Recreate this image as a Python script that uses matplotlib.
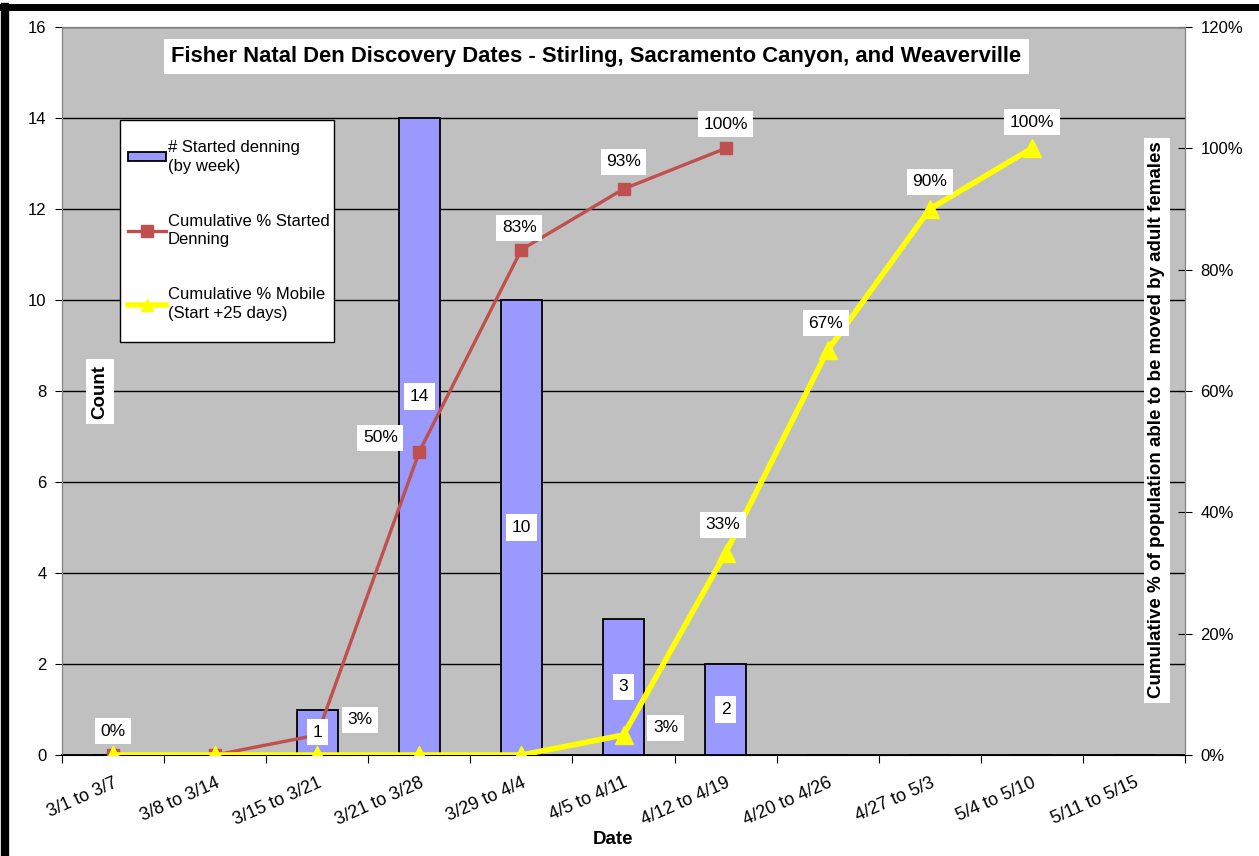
import matplotlib
matplotlib.use("Agg")
import matplotlib.pyplot as plt
from matplotlib.lines import Line2D
from matplotlib.patches import Patch, Rectangle

plt.rcParams['font.family'] = ['Liberation Sans', 'DejaVu Sans']

# data
weeks = ['3/1 to 3/7', '3/8 to 3/14', '3/15 to 3/21', '3/21 to 3/28', '3/29 to 4/4',
         '4/5 to 4/11', '4/12 to 4/19', '4/20 to 4/26', '4/27 to 5/3', '5/4 to 5/10',
         '5/11 to 5/15']
started = [0, 0, 1, 14, 10, 3, 2, 0, 0, 0, 0]
cum_started = [0, 0, 3.3, 50, 83.3, 93.3, 100]
cum_mobile = [0, 0, 0, 0, 0, 3.3, 33.3, 66.7, 90, 100]
started_labels = ['0%', None, '3%', '50%', '83%', '93%', '100%']
mobile_labels = [None, None, None, None, None, '3%', '33%', '67%', '90%', '100%']

# label offsets in pixels (style only)
red_off = [(0, 24), None, (43, 15), (-39, 14), (-2, 22), (0, 27), (0, 24)]
yel_off = [None, None, None, None, None, (42, 7), (-3, 28), (-2, 27), (0, 27), (0, 26)]

W, H = 1259, 856
fig = plt.figure(figsize=(W / 100, H / 100), dpi=100)
ax1 = fig.add_axes([62/W, 1-755/H, (1185-62)/W, (755-27)/H])
ax1.set_facecolor('#C0C0C0')

x = [i + 0.5 for i in range(len(weeks))]
ax1.bar(x, started, width=0.4, color='#9999FF', edgecolor='black', linewidth=1.3, zorder=3)
ax1.set_xlim(0, len(weeks))
ax1.set_ylim(0, 16)
ax1.set_yticks(range(0, 17, 2))
ax1.yaxis.grid(True, color='black', linewidth=1)
ax1.set_axisbelow(True)
ax1.tick_params(axis='y', direction='out', length=5, labelsize=12, pad=6)
ax1.set_xticks(range(len(weeks) + 1))
ax1.set_xticklabels([])
ax1.set_xticks(x, minor=True)
ax1.set_xticklabels(weeks, minor=True, rotation=24, ha='right', va='top',
                    rotation_mode='anchor', fontsize=13)
ax1.tick_params(axis='x', which='major', direction='out', length=6)
ax1.tick_params(axis='x', which='minor', length=0, pad=14)
for s in ['left', 'top', 'right']:
    ax1.spines[s].set_color('#808080')
ax1.spines['bottom'].set_color('black')
ax1.spines['bottom'].set_linewidth(1.3)

ax2 = ax1.twinx()
ax2.set_ylim(0, 120)
ax2.set_yticks(range(0, 121, 20))
ax2.set_yticklabels([f'{t}%' for t in range(0, 121, 20)])
ax2.tick_params(axis='y', direction='inout', length=10, labelsize=12, pad=6)
for s in ['left', 'top', 'right']:
    ax2.spines[s].set_color('#808080')

ax2.plot(x[:len(cum_started)], cum_started, color='#C0504D', linewidth=2.4,
         marker='s', markersize=9, zorder=4)
ax2.plot(x[:len(cum_mobile)], cum_mobile, color='#FFFF00', linewidth=4,
         marker='^', markersize=13, zorder=5)

# bar value labels (drawn on ax2 so they sit above the red line)
for i, v in enumerate(started):
    if v == 0:
        continue
    dy = 40 if v == 14 else 0
    ax2.annotate(str(v), (x[i], v / 2), xycoords=ax1.transData, xytext=(0, dy),
                 textcoords='offset pixels', ha='center', va='center', fontsize=12.5,
                 zorder=4.5, bbox=dict(fc='white', ec='none', pad=4))

for i, lab in enumerate(started_labels):
    if lab:
        ax2.annotate(lab, (x[i], cum_started[i]), xytext=red_off[i], textcoords='offset pixels',
                     ha='center', va='center', fontsize=12.5, zorder=7,
                     bbox=dict(fc='white', ec='none', pad=4))
for i, lab in enumerate(mobile_labels):
    if lab:
        ax2.annotate(lab, (x[i], cum_mobile[i]), xytext=yel_off[i], textcoords='offset pixels',
                     ha='center', va='center', fontsize=12.5, zorder=7,
                     bbox=dict(fc='white', ec='none', pad=4))

# title and axis titles inside the plot
ax2.text(0.476, 0.959, 'Fisher Natal Den Discovery Dates - Stirling, Sacramento Canyon, and Weaverville',
         transform=ax2.transAxes, ha='center', va='center', fontsize=15.8, fontweight='bold',
         bbox=dict(fc='white', ec='none', pad=5))
ax2.text(0.034, 0.499, 'Count', transform=ax2.transAxes, rotation=90, ha='center', va='center',
         fontsize=13.5, fontweight='bold', bbox=dict(fc='white', ec='none', pad=4))
ax2.text(0.975, 0.46, 'Cumulative % of population able to be moved by adult females',
         transform=ax2.transAxes, rotation=90, ha='center', va='center',
         fontsize=13.5, fontweight='bold', bbox=dict(fc='white', ec='none', pad=3))
fig.text(613/W, 1-840/H, 'Date', ha='center', va='center', fontsize=13.5, fontweight='bold')

# legend: white box drawn separately, entries placed inside it
ax2.add_patch(Rectangle(((120-62)/1123, (755-342)/728), (334-120)/1123, (342-120)/728,
                        transform=ax2.transAxes, fc='white', ec='black', lw=1, zorder=9))
handles = [Patch(fc='#9999FF', ec='black', lw=1.3),
           Line2D([], [], color='#C0504D', lw=2.4, marker='s', markersize=8),
           Line2D([], [], color='#FFFF00', lw=4, marker='^', markersize=9)]
labels = ['# Started denning\n(by week)', 'Cumulative % Started\nDenning',
          'Cumulative % Mobile\n(Start +25 days)']
leg = ax2.legend(handles, labels, loc='upper left',
                 bbox_to_anchor=((128-62)/1123, (755-140)/728),
                 borderaxespad=0, borderpad=0, fontsize=12, frameon=False,
                 handlelength=2.25, handleheight=0.45, handletextpad=0.15, labelspacing=2.4)
for t in leg.get_texts():
    t.set_linespacing(1.3)
leg.set_zorder(10)

# black frame along top and left edge
fig.add_artist(Line2D([0, 1], [1-7/H, 1-7/H], color='black', lw=5, transform=fig.transFigure))
fig.add_artist(Line2D([5/W, 5/W], [0, 1-7/H], color='black', lw=6, transform=fig.transFigure))

fig.savefig('out.png', dpi=100)
